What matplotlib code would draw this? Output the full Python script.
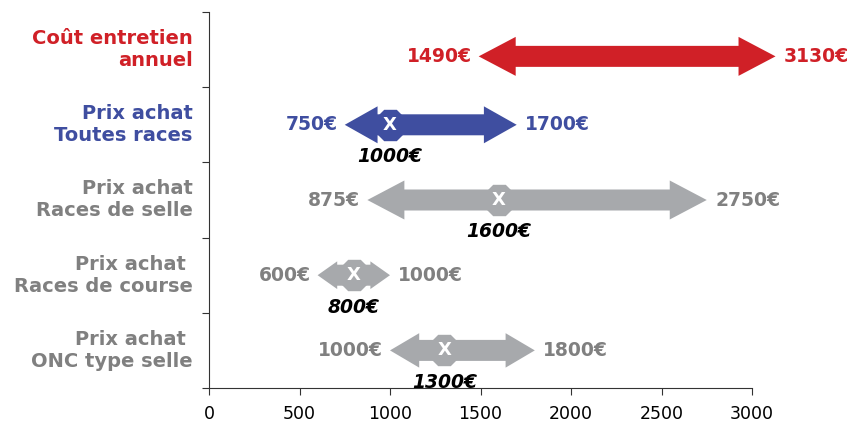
import matplotlib
matplotlib.use('Agg')
import matplotlib.pyplot as plt
from matplotlib.transforms import blended_transform_factory

#%% data
categories = ['Coût entretien\nannuel',
              'Prix achat\nToutes races',
              'Prix achat\nRaces de selle',
              'Prix achat \nRaces de course',
              'Prix achat \nONC type selle']
lows = [1490, 750, 875, 600, 1000]
highs = [3130, 1700, 2750, 1000, 1800]
medians = [None, 1000, 1600, 800, 1300]
xticks = [0, 500, 1000, 1500, 2000, 2500, 3000]

arrow_colors = ['#D02027', '#3F4EA0', '#A7A9AC', '#A7A9AC', '#A7A9AC']
text_colors = ['#D02027', '#3F4EA0', '#808080', '#808080', '#808080']

W, H = 857, 424
XMAX = 3000
ax_rect = [209 / W, 36 / H, 543 / W, 376 / H]
ux = XMAX / 543.0             # data units per pixel (x)
uy = len(categories) / 376.0  # data units per pixel (y)


def double_arrow(ax, lo, hi, y, color):
    # head size grows with the arrow length, like the original drawing
    hl_px = min(37, 10 + 0.024 * (hi - lo))
    hh_px = min(39, 14 + 0.7 * hl_px)
    hl = hl_px * ux
    hw = hh_px / 2 * uy
    sw = 10.5 * uy
    xs = [lo, lo + hl, lo + hl, hi - hl, hi - hl, hi, hi - hl, hi - hl, lo + hl, lo + hl]
    ys = [y, y + hw, y + sw, y + sw, y + hw, y, y - hw, y - sw, y - sw, y - hw]
    ax.fill(xs, ys, color=color, lw=0, zorder=2, clip_on=False)


fig = plt.figure(figsize=(W / 100, H / 100), dpi=100)
ax = fig.add_axes(ax_rect)
ax.set_xlim(0, XMAX)
ax.set_ylim(0, len(categories))

n = len(categories)
trans = blended_transform_factory(ax.transAxes, ax.transData)
for i, lab in enumerate(categories):
    yc = n - 0.5 - i
    ya = yc - (0.09 if i == 0 else 0)
    double_arrow(ax, lows[i], highs[i], ya, arrow_colors[i])
    ax.annotate('%d€' % lows[i], (lows[i], ya), xytext=(-5, 0), textcoords='offset points',
                ha='right', va='center', fontsize=13.5, fontweight='bold',
                color=text_colors[i], annotation_clip=False)
    ax.annotate('%d€' % highs[i], (highs[i], ya), xytext=(6, 0), textcoords='offset points',
                ha='left', va='center', fontsize=13.5, fontweight='bold',
                color=text_colors[i], annotation_clip=False)
    if medians[i] is not None:
        ax.plot(medians[i], ya, marker='8', markersize=23, color=arrow_colors[i],
                mec=arrow_colors[i], zorder=3)
        ax.text(medians[i], ya, 'X', ha='center', va='center', color='white',
                fontsize=13, fontweight='bold', zorder=4)
        ax.annotate('%d€' % medians[i], (medians[i], ya), xytext=(0, -23),
                    textcoords='offset points', ha='center', va='center', fontsize=13.5,
                    fontweight='bold', fontstyle='italic', color='black')
    ax.text(-0.03, yc, lab, transform=trans, ha='right', va='center', fontsize=14,
            fontweight='bold', color=text_colors[i], linespacing=1.2,
            multialignment='right')

ax.spines['top'].set_visible(False)
ax.spines['right'].set_visible(False)
ax.spines['left'].set_color('#333333')
ax.spines['bottom'].set_color('#333333')
ax.set_xticks(xticks)
ax.set_xticklabels([str(t) for t in xticks], fontsize=12.5)
ax.set_yticks(range(n + 1))
ax.set_yticklabels([])
ax.tick_params(axis='both', direction='out', length=5, color='#333333')
ax.tick_params(axis='x', pad=7)

fig.savefig('out.png', dpi=100)
